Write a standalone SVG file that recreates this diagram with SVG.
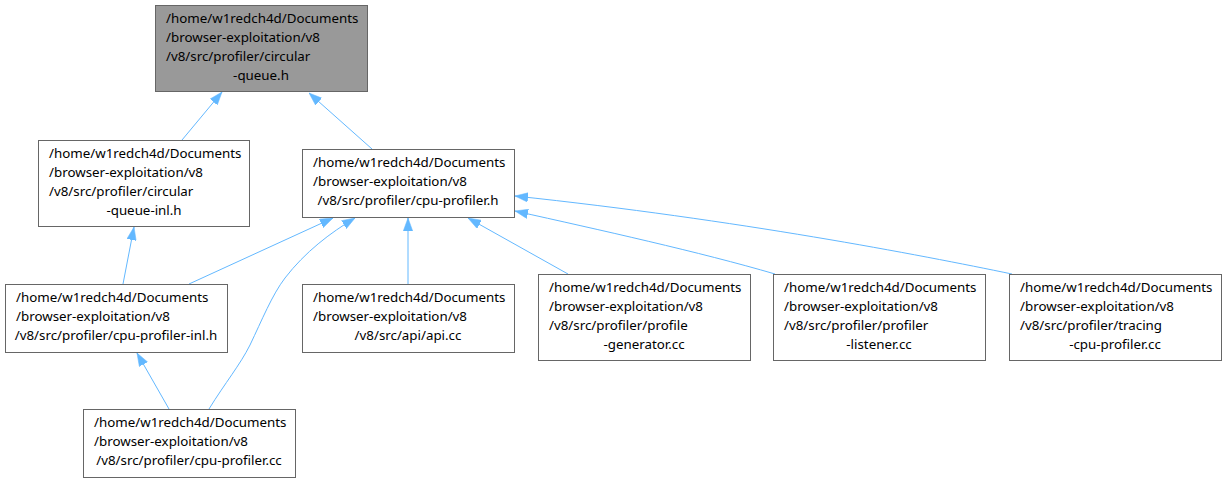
<svg xmlns="http://www.w3.org/2000/svg" width="1228" height="482" viewBox="0 0 1228 482">
<style>
.n rect{fill:#ffffff;stroke:#666666;stroke-width:1}
#nA rect{fill:#999999}
text{font-family:"Noto Sans","Open Sans","DejaVu Sans",sans-serif;font-size:13.33px;fill:#000000}
.m{text-anchor:middle}
.e path{fill:none;stroke:#63b8ff;stroke-width:1;marker-end:url(#ah)}
</style>
<defs>
<marker id="ah" markerUnits="userSpaceOnUse" viewBox="0 0 13 10" refX="13" refY="5" markerWidth="13" markerHeight="10" orient="auto">
<path d="M0,0.3 L13,5 L0,9.7 z" fill="#63b8ff" stroke="#63b8ff" stroke-width="0.5"/>
</marker>
</defs>
<rect width="1228" height="482" fill="#ffffff"/>
<g class="e" id="edges">
<path d="M182,140 L222,92"/>
<path d="M372,149 L309,93"/>
<path d="M123,284 L134,227"/>
<path d="M189,284 L333,218"/>
<path d="M209,409 C225,383 240,365 250,345 C262,320 272,295 285,278 C305,252 330,233 355,218"/>
<path d="M169,409 L137,353"/>
<path d="M408,284 L408,218"/>
<path d="M568,274 L468,218"/>
<path d="M775,274 C700,252 600,230 515,211"/>
<path d="M1012,274 C920,255 740,220 515,196"/>
</g>
<g class="n" id="nA">
<rect x="155.5" y="5.5" width="212" height="86"/>
<text x="166" y="23">/home/w1redch4d/Documents</text>
<text x="166" y="42">/browser-exploitation/v8</text>
<text x="166" y="61">/v8/src/profiler/circular</text>
<text class="m" x="261" y="80">-queue.h</text>
</g>
<g class="n" id="nB">
<rect x="38.5" y="140.5" width="211" height="86"/>
<text x="49" y="158">/home/w1redch4d/Documents</text>
<text x="49" y="177">/browser-exploitation/v8</text>
<text x="49" y="196">/v8/src/profiler/circular</text>
<text class="m" x="144" y="215">-queue-inl.h</text>
</g>
<g class="n" id="nC">
<rect x="302.5" y="149.5" width="212" height="68"/>
<text x="313" y="167">/home/w1redch4d/Documents</text>
<text x="313" y="186">/browser-exploitation/v8</text>
<text class="m" x="408" y="205">/v8/src/profiler/cpu-profiler.h</text>
</g>
<g class="n" id="nD">
<rect x="5.5" y="284.5" width="222" height="68"/>
<text x="16" y="302">/home/w1redch4d/Documents</text>
<text x="16" y="321">/browser-exploitation/v8</text>
<text class="m" x="116" y="340">/v8/src/profiler/cpu-profiler-inl.h</text>
</g>
<g class="n" id="nE">
<rect x="302.5" y="284.5" width="212" height="68"/>
<text x="313" y="302">/home/w1redch4d/Documents</text>
<text x="313" y="321">/browser-exploitation/v8</text>
<text class="m" x="408" y="340">/v8/src/api/api.cc</text>
</g>
<g class="n" id="nF">
<rect x="83.5" y="409.5" width="212" height="68"/>
<text x="94" y="427">/home/w1redch4d/Documents</text>
<text x="94" y="446">/browser-exploitation/v8</text>
<text class="m" x="189" y="465">/v8/src/profiler/cpu-profiler.cc</text>
</g>
<g class="n" id="nG">
<rect x="538.5" y="274.5" width="212" height="86"/>
<text x="549" y="292">/home/w1redch4d/Documents</text>
<text x="549" y="311">/browser-exploitation/v8</text>
<text x="549" y="330">/v8/src/profiler/profile</text>
<text class="m" x="644" y="349">-generator.cc</text>
</g>
<g class="n" id="nH">
<rect x="773.5" y="274.5" width="212" height="86"/>
<text x="784" y="292">/home/w1redch4d/Documents</text>
<text x="784" y="311">/browser-exploitation/v8</text>
<text x="784" y="330">/v8/src/profiler/profiler</text>
<text class="m" x="879" y="349">-listener.cc</text>
</g>
<g class="n" id="nI">
<rect x="1009.5" y="274.5" width="212" height="86"/>
<text x="1020" y="292">/home/w1redch4d/Documents</text>
<text x="1020" y="311">/browser-exploitation/v8</text>
<text x="1020" y="330">/v8/src/profiler/tracing</text>
<text class="m" x="1115" y="349">-cpu-profiler.cc</text>
</g>
</svg>
